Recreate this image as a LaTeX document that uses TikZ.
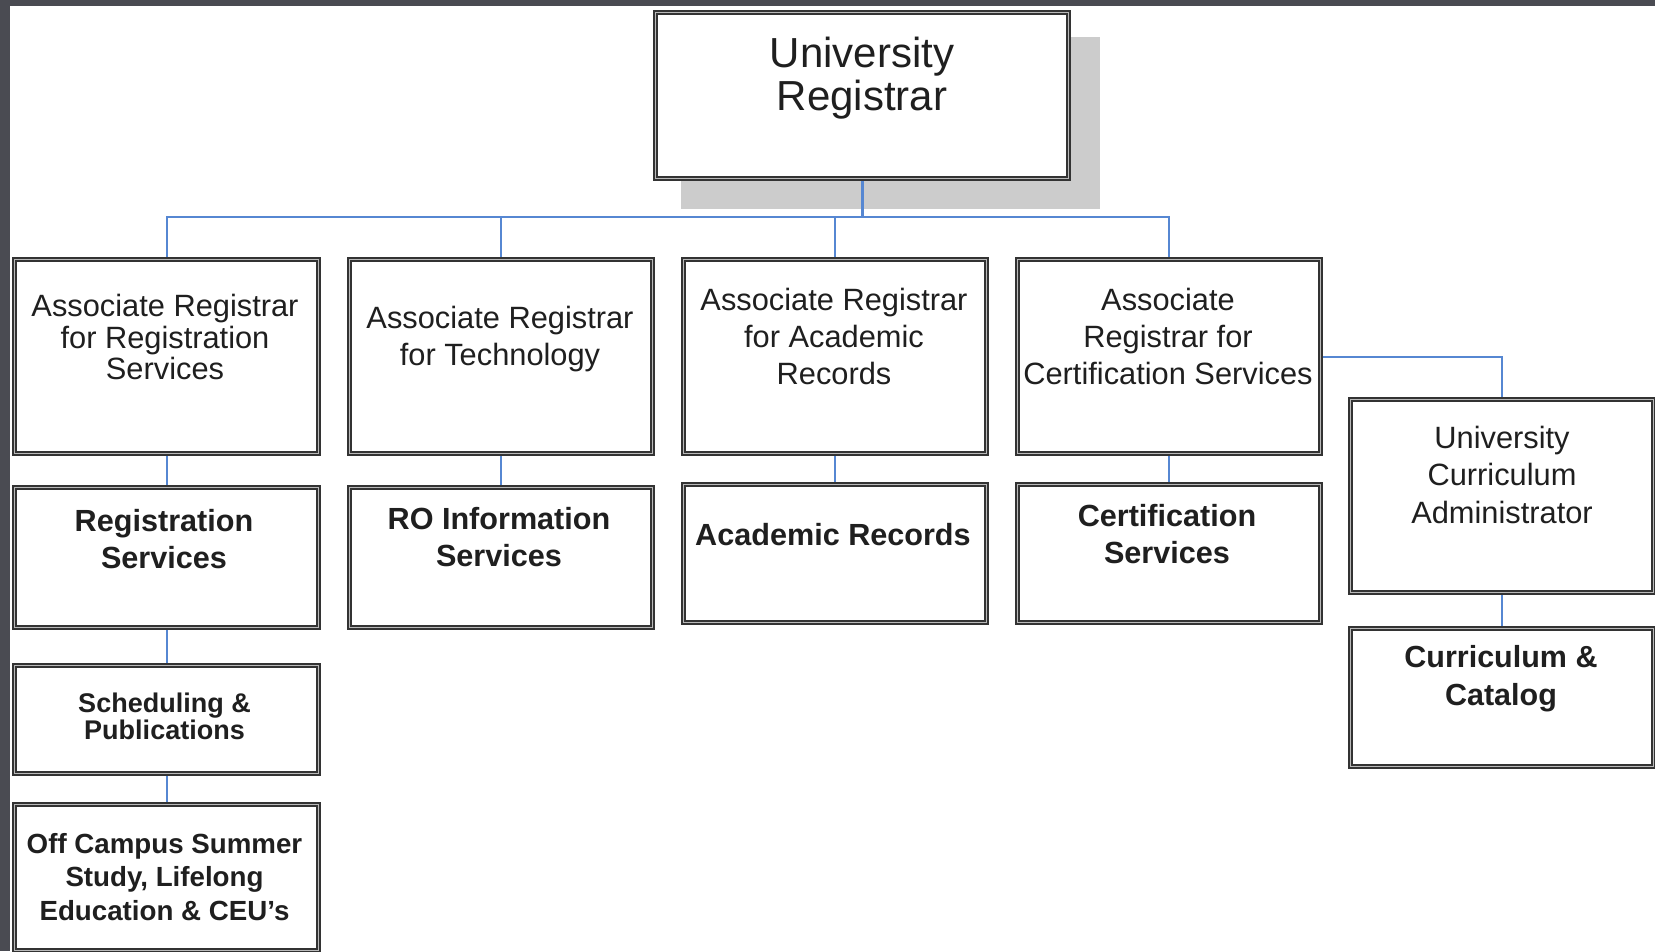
\documentclass[tikz,border=0pt]{standalone}
\usepackage{fontspec}
\setmainfont{Liberation Sans}
\usetikzlibrary{backgrounds}
\definecolor{framegray}{RGB}{74,75,82}
\definecolor{connblue}{RGB}{86,135,210}
\definecolor{shadowgray}{RGB}{204,204,204}
\tikzset{
  orgbox/.style={draw=black!80, double=gray!55, line width=1.6pt, double distance=1.6pt,
    fill=white, inner sep=0pt, outer sep=0pt, minimum width=303.2pt, minimum height=#1},
  conn/.style={draw=connblue, line width=2pt},
  trunk/.style={draw=connblue, line width=3pt},
  lbl/.style={anchor=north, align=center, inner sep=0pt, text=black!88},
  regtxt/.style={lbl, font=\fontsize{30.8pt}{37pt}\selectfont},
  bldtxt/.style={lbl, font=\fontsize{30.6pt}{37pt}\selectfont\bfseries},
}
\begin{document}
\begin{tikzpicture}[x=1pt,y=-1pt]
\useasboundingbox (0,0) rectangle (1655,951);

% boxes
\node[orgbox=166.2pt, minimum width=413.2pt] (top) at (862,95.5) {};
\node[orgbox=194.2pt, minimum width=304.2pt] (b1) at (166.5,356.5) {};
\node[orgbox=194.2pt] (b2) at (501,356.5) {};
\node[orgbox=194.2pt] (b3) at (835,356.5) {};
\node[orgbox=194.2pt] (b4) at (1169,356.5) {};
\node[orgbox=140.2pt, minimum width=304.2pt] (r1) at (166.5,557.5) {};
\node[orgbox=140.2pt] (r2) at (501,557.5) {};
\node[orgbox=138.2pt] (r3) at (835,553.5) {};
\node[orgbox=138.2pt] (r4) at (1169,553.5) {};
\node[orgbox=108.2pt, minimum width=304.2pt] (sched) at (166.5,719.5) {};
\node[orgbox=146.2pt, minimum width=304.2pt] (off) at (166.5,877.5) {};
\node[orgbox=193.2pt] (uca) at (1502,496) {};
\node[orgbox=138.2pt] (cat) at (1502,697.5) {};

% texts
\node[lbl, font=\fontsize{42pt}{43.3pt}\selectfont] (ttop) at (862,36.5) {University\\Registrar};
\node[regtxt, font=\fontsize{30.8pt}{31.7pt}\selectfont] (tb1) at (165,293.8) {Associate Registrar\\for Registration\\Services};
\node[regtxt] (tb2) at (500,305.8) {Associate Registrar\\for Technology};
\node[regtxt] (tb3) at (834,287.8) {Associate Registrar\\for Academic\\Records};
\node[regtxt] (tb4) at (1168,287.8) {Associate\\Registrar for\\Certification Services};
\node[regtxt, font=\fontsize{30.8pt}{37.4pt}\selectfont] (tuca) at (1502,425.8) {University\\Curriculum\\Administrator};
\node[bldtxt] (tr1) at (164,509) {Registration\\Services};
\node[bldtxt] (tr2) at (499,507) {RO Information\\Services};
\node[bldtxt] (tr3) at (833,523) {Academic Records};
\node[bldtxt] (tr4) at (1167,504) {Certification\\Services};
\node[lbl, font=\fontsize{27pt}{27.6pt}\selectfont\bfseries] (tsched) at (164.5,692.3) {Scheduling \&\\Publications};
\node[lbl, font=\fontsize{27.7pt}{33.3pt}\selectfont\bfseries] (toff) at (164.5,833.4) {Off Campus Summer\\Study, Lifelong\\Education \& CEU’s};
\node[lbl, font=\fontsize{30.5pt}{37.7pt}\selectfont\bfseries] (tcat) at (1501,645.3) {Curriculum \&\\Catalog};

\coordinate (bus) at (862,217);

\begin{pgfonlayer}{background}
  \fill[white] (0,0) rectangle (1655,951);
  \fill[shadowgray] (681,37) rectangle (1100,209);
  \draw[trunk] (top.south) -- (bus);
  \draw[conn] (b1.north) |- (bus) -| (b4.north);
  \draw[conn] (b2.north) -- (b2.north |- bus);
  \draw[conn] (b3.north) -- (b3.north |- bus);
  \draw[conn] (b1.south) -- (r1.north);
  \draw[conn] (b2.south) -- (r2.north);
  \draw[conn] (b3.south) -- (r3.north);
  \draw[conn] (b4.south) -- (r4.north);
  \draw[conn] (r1.south) -- (sched.north);
  \draw[conn] (sched.south) -- (off.north);
  \draw[conn] (b4.east) -| (uca.north);
  \draw[conn] (uca.south) -- (cat.north);
\end{pgfonlayer}

% dark frame strips
\fill[framegray] (0,0) rectangle (1655,6);
\fill[framegray] (0,0) rectangle (10,951);
\end{tikzpicture}
\end{document}
